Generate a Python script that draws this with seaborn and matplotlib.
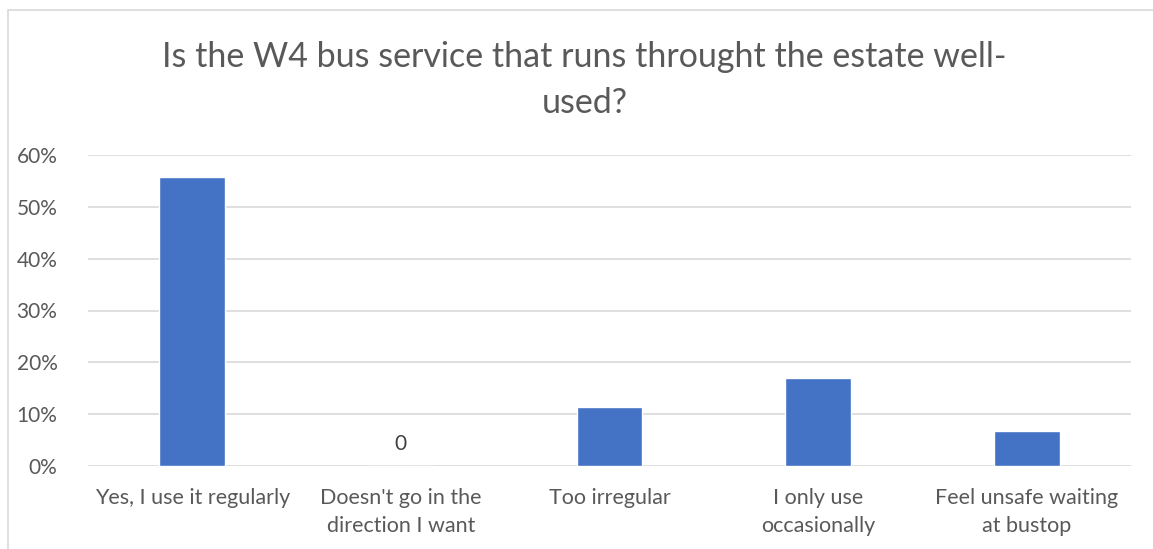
import matplotlib
matplotlib.use("Agg")
import matplotlib.pyplot as plt
import matplotlib.ticker as mtick
from matplotlib.patches import Rectangle
import pandas as pd
import seaborn as sns

# Survey answers and share of respondents
answers = [
    "Yes, I use it regularly",
    "Doesn't go in the\ndirection I want",
    "Too irregular",
    "I only use\noccasionally",
    "Feel unsafe waiting\nat bustop",
]
shares = [0.557, 0.0, 0.113, 0.170, 0.068]
y_ticks = [0.0, 0.1, 0.2, 0.3, 0.4, 0.5, 0.6]

df = pd.DataFrame({"answer": answers, "share": shares})

sns.set_style("white")
plt.rcParams["font.family"] = ["Lato", "DejaVu Sans"]

grey = "#595959"
fig = plt.figure(figsize=(11.53, 5.49), dpi=100)
ax = fig.add_axes([88 / 1153, 1 - 466 / 549, (1131 - 88) / 1153, (466 - 155) / 549])

sns.barplot(data=df, x="answer", y="share", color="#4472C4", width=0.316,
            saturation=1, ax=ax, zorder=3)

ax.set_ylim(0, 0.6)
ax.set_yticks(y_ticks)
ax.yaxis.set_major_formatter(mtick.PercentFormatter(1.0, decimals=0))
ax.grid(axis="y", color="#D9D9D9", linewidth=1.2, zorder=0)
for s in ax.spines.values():
    s.set_visible(False)
ax.tick_params(axis="x", length=0, labelsize=15.5, colors=grey, pad=16)
ax.tick_params(axis="y", length=0, labelsize=15, colors=grey, pad=22)
for lab in ax.get_xticklabels():
    lab.set_linespacing(1.5)
ax.set_xlabel("")
ax.set_ylabel("")

# data label on the empty bar
for i, v in enumerate(shares):
    if v == 0:
        ax.annotate("0", (i, v), xytext=(0, 9), textcoords="offset points",
                    ha="center", va="bottom", fontsize=15, color="#404040")

fig.text(0.507, 1 - 80 / 549,
         "Is the W4 bus service that runs throught the estate well-\nused?",
         ha="center", va="center", fontsize=24.5, color=grey,
         linespacing=1.55)

# chart area border (only top and left visible in the crop)
fig.patches.append(Rectangle((8 / 1153, -0.2), 1.2, 1.2 - 10.5 / 549,
                             transform=fig.transFigure, fill=False,
                             edgecolor="#D9D9D9", linewidth=1.2))

fig.savefig("out.png", dpi=100, facecolor="white")
